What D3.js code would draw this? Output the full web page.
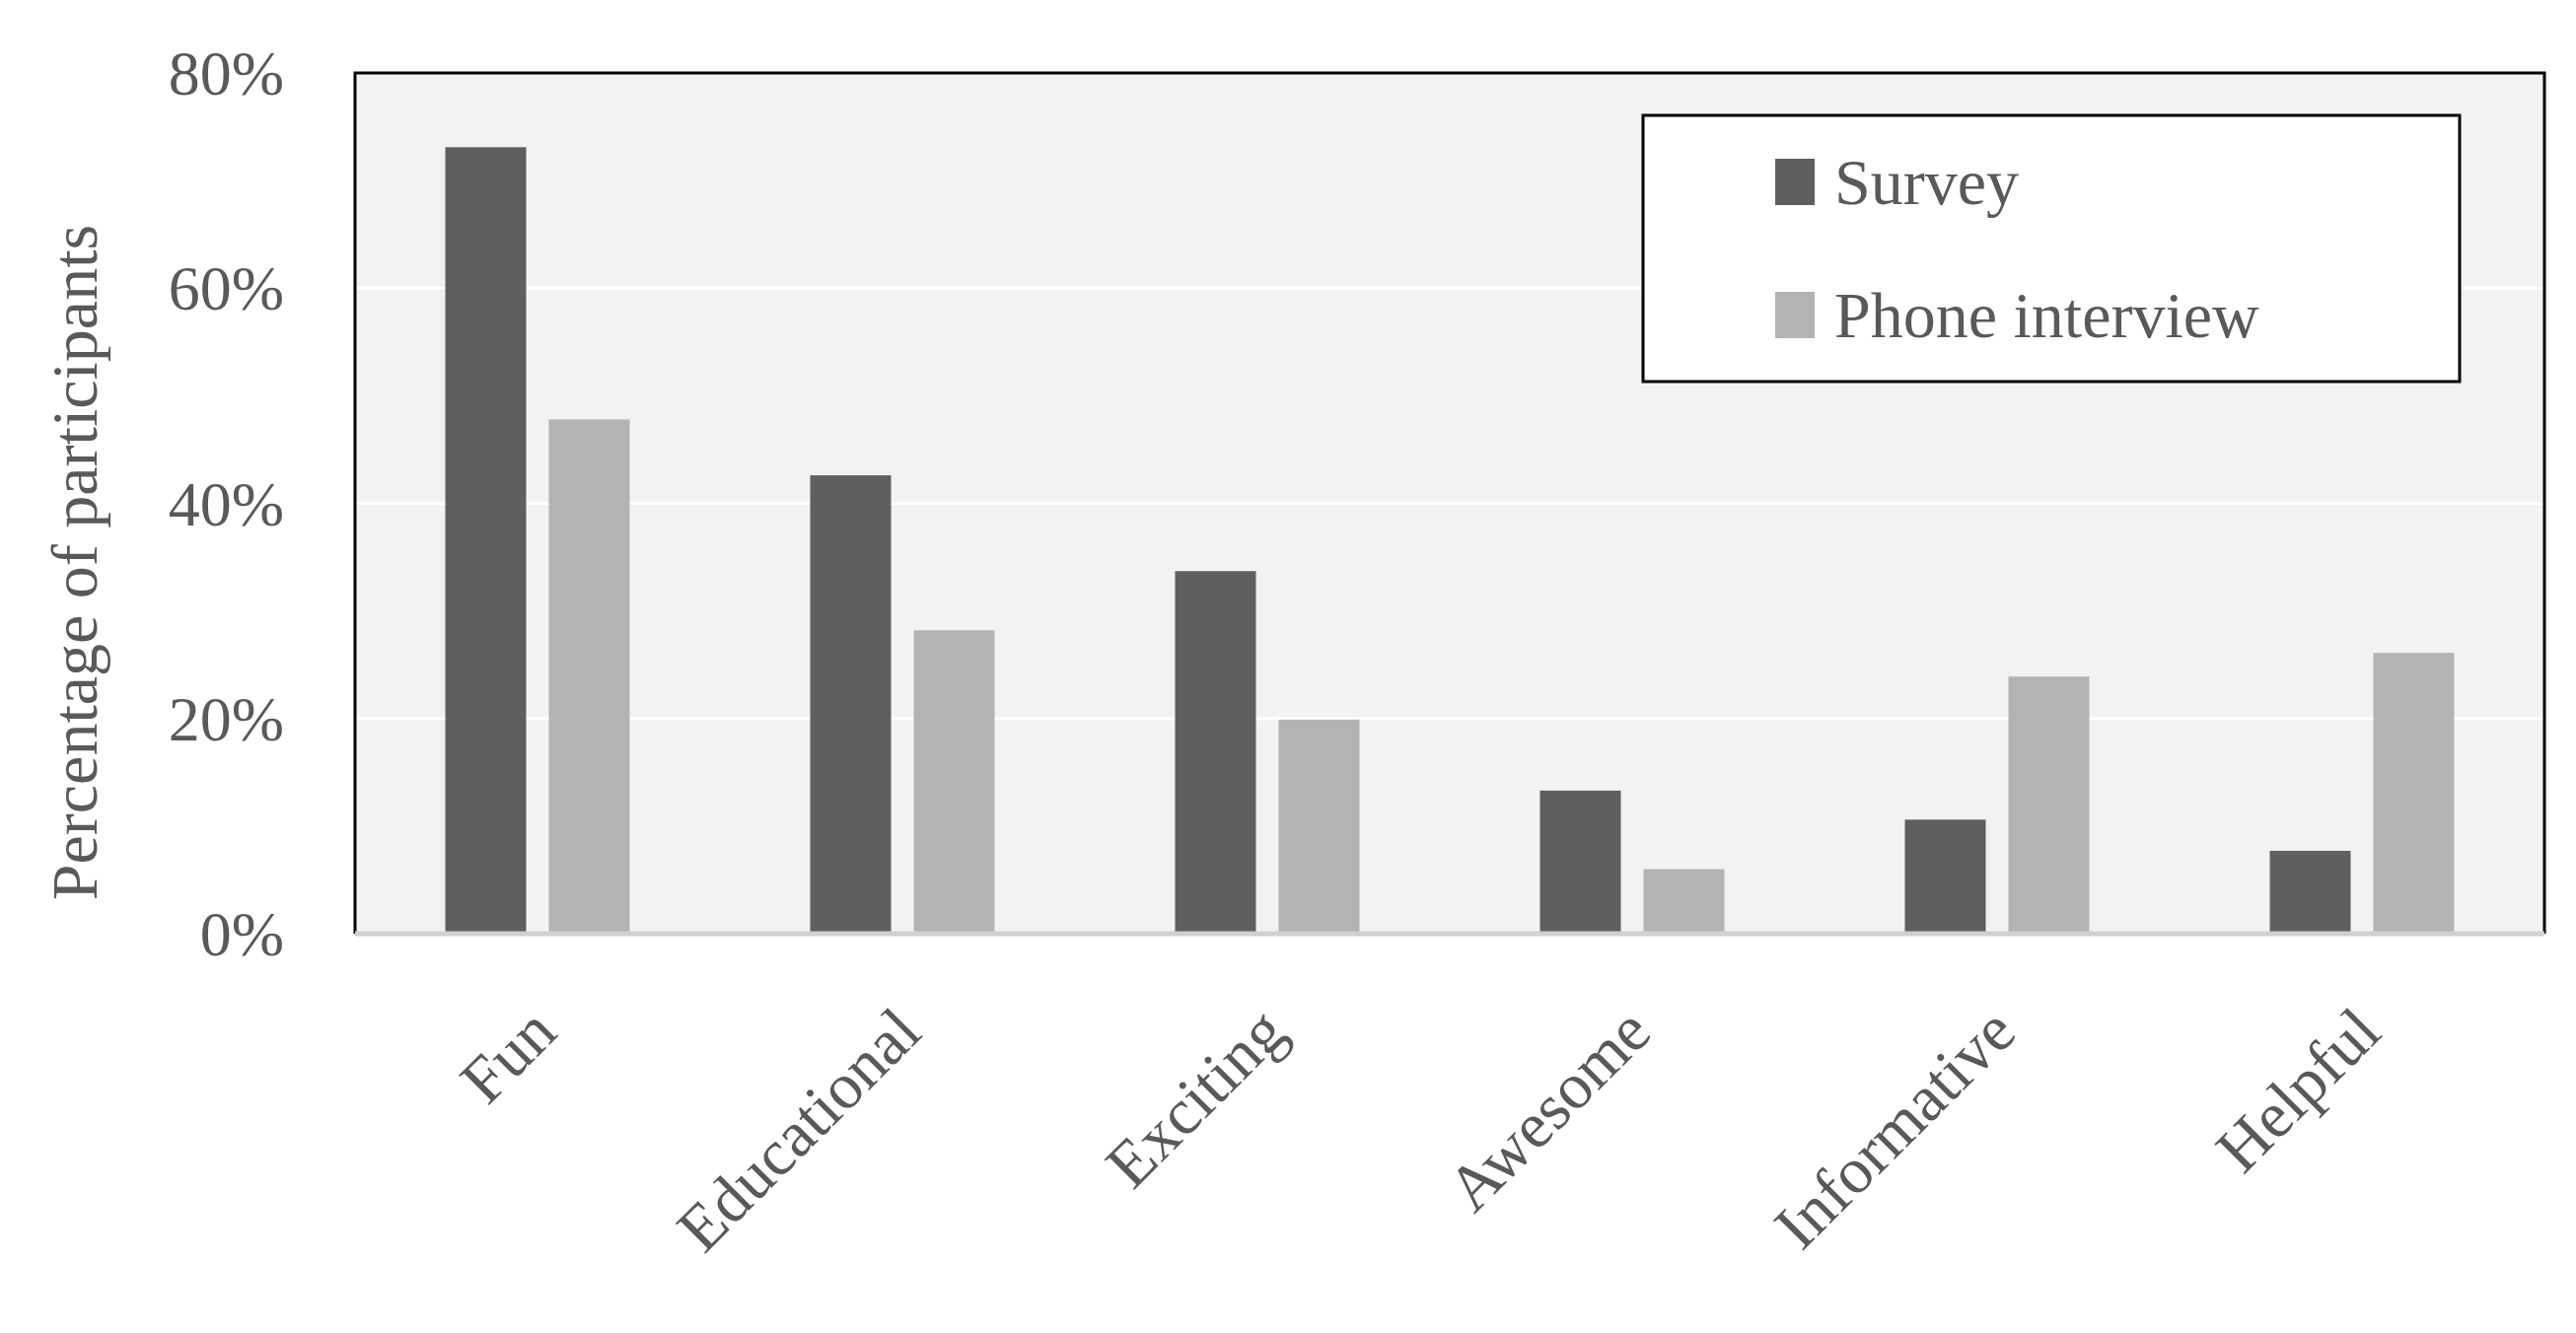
<!DOCTYPE html>
<html><head><meta charset="utf-8">
<script src="https://cdn.jsdelivr.net/npm/d3@7"></script>
<style>body{margin:0;background:#fff}</style>
</head><body>
<svg id="chart" width="2612" height="1352"></svg>
<script>
var categories = ["Fun", "Educational", "Exciting", "Awesome", "Informative", "Helpful"];
var survey = [73.1, 42.6, 33.7, 13.3, 10.6, 7.7];
var phone = [47.8, 28.2, 19.9, 6.0, 23.9, 26.1];
var seriesNames = ["Survey", "Phone interview"];
var seriesColors = ["#5f5f5f", "#b3b3b3"];
var yTicks = [0, 20, 40, 60, 80];

var svg = d3.select("#chart");
var plotLeft = 360, plotRight = 2580, plotTop = 74, plotBottom = 947;
var font = "'Liberation Serif', 'DejaVu Serif', serif";
var textColor = "#595959";

var x = d3.scaleBand().domain(categories).range([plotLeft, plotRight]);
var y = d3.scaleLinear().domain([0, 80]).range([plotBottom, plotTop]);

svg.append("rect").attr("x", plotLeft).attr("y", plotTop)
  .attr("width", plotRight - plotLeft).attr("height", plotBottom - plotTop)
  .attr("fill", "#f2f2f2");

// gridlines
svg.selectAll(".grid").data(yTicks.slice(1, 4)).enter().append("line")
  .attr("x1", plotLeft).attr("x2", plotRight)
  .attr("y1", d => y(d)).attr("y2", d => y(d))
  .attr("stroke", "#ffffff").attr("stroke-width", 3);

var barW = 82, gap = 23;
var series = [survey, phone];
series.forEach(function(vals, s) {
  svg.selectAll(".bar" + s).data(vals).enter().append("rect")
    .attr("x", (d, i) => x.bandwidth() / 2 + x(categories[i]) - barW - gap / 2 + s * (barW + gap))
    .attr("y", d => y(d))
    .attr("width", barW)
    .attr("height", d => plotBottom - y(d))
    .attr("fill", seriesColors[s]);
});

// frame
svg.append("path")
  .attr("d", "M" + plotLeft + "," + plotBottom + "V" + plotTop + "H" + plotRight + "V" + plotBottom)
  .attr("fill", "none").attr("stroke", "#000").attr("stroke-width", 3);
svg.append("line").attr("x1", plotLeft).attr("x2", plotRight)
  .attr("y1", plotBottom).attr("y2", plotBottom)
  .attr("stroke", "#d0d0d0").attr("stroke-width", 5);

// y ticks
svg.selectAll(".ytick").data(yTicks).enter().append("text")
  .attr("x", 288).attr("y", d => y(d) + 22)
  .attr("text-anchor", "end")
  .attr("font-family", font).attr("font-size", 64).attr("fill", textColor)
  .text(d => d + "%");

svg.append("text")
  .attr("transform", "translate(98," + ((plotTop + plotBottom) / 2 + 60) + ") rotate(-90)")
  .attr("text-anchor", "middle")
  .attr("font-family", font).attr("font-size", 66).attr("fill", textColor)
  .text("Percentage of participants");

// x labels
svg.selectAll(".xlab").data(categories).enter().append("text")
  .attr("transform", d => "translate(" + (x(d) + x.bandwidth() / 2 + 22) + ",1050) rotate(-45)")
  .attr("text-anchor", "end")
  .attr("font-family", font).attr("font-size", 66).attr("fill", textColor)
  .text(d => d);

// legend
var lg = svg.append("g");
lg.append("rect").attr("x", 1666).attr("y", 117).attr("width", 828).attr("height", 270)
  .attr("fill", "#fff").attr("stroke", "#000").attr("stroke-width", 3);
seriesNames.forEach(function(name, i) {
  var cy = 185 + i * 135;
  lg.append("rect").attr("x", 1800).attr("y", cy - 24).attr("width", 40).attr("height", 47)
    .attr("fill", seriesColors[i]);
  lg.append("text").attr("x", 1860).attr("y", cy + 22)
    .attr("font-family", font).attr("font-size", 66).attr("fill", textColor)
    .text(name);
});
</script>
</body></html>
